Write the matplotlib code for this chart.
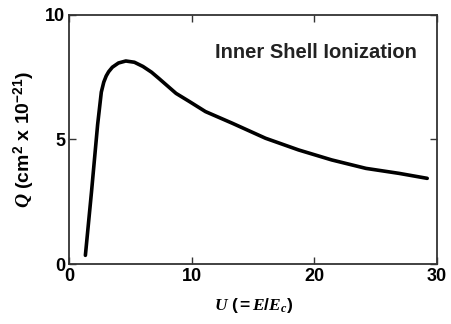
import matplotlib.pyplot as plt
import numpy as np

# inner shell ionization cross section vs overvoltage
U = [1.3, 1.8, 2.3, 2.6, 2.8, 3.0, 3.2, 3.5, 4.0, 4.6, 5.3, 6.0, 6.7, 7.3,
     8.7, 9.8, 11.1, 13.3, 16.0, 18.7, 21.4, 24.2, 26.9, 29.2]
Q = [0.35, 2.9, 5.6, 6.9, 7.3, 7.55, 7.72, 7.9, 8.07, 8.15, 8.1, 7.93, 7.7,
     7.45, 6.85, 6.52, 6.12, 5.65, 5.05, 4.58, 4.18, 3.84, 3.64, 3.44]
xticks = [0, 10, 20, 30]
yticks = [0, 5, 10]

plt.rcParams['font.family'] = 'Liberation Sans'
plt.rcParams['font.weight'] = 'bold'
plt.rcParams['axes.labelweight'] = 'bold'
plt.rcParams['mathtext.fontset'] = 'custom'
plt.rcParams['mathtext.rm'] = 'Liberation Sans:bold'
plt.rcParams['mathtext.it'] = 'Liberation Serif:italic:bold'

fig = plt.figure(figsize=(4.51, 3.24), dpi=100)
ax = fig.add_axes([0.154, 0.185, 0.815, 0.769])

ax.plot(U, Q, color='black', linewidth=2.6, solid_capstyle='round',
        solid_joinstyle='round')

ax.set_xlim(0, 30)
ax.set_ylim(0, 10)
ax.set_xticks(xticks)
ax.set_yticks(yticks)
ax.tick_params(direction='in', length=5, width=1.0, top=True, right=True,
               labelsize=13, color='#333333', pad=3)
for s in ax.spines.values():
    s.set_linewidth(1.3)
    s.set_color('#333333')

ax.text(0.946, 0.851, 'Inner Shell Ionization', transform=ax.transAxes,
        ha='right', va='center', fontsize=14.5, fontweight='bold', color='#222222')

ax.set_xlabel(r'$\mathit{U\ ({=}E/E_c)}$', fontsize=12.5, labelpad=8)
ax.set_ylabel(r'$\mathit{Q}$ (cm$^2$ x 10$^{-21}$)', fontsize=14, labelpad=6)

fig.savefig('out.png', dpi=100)
